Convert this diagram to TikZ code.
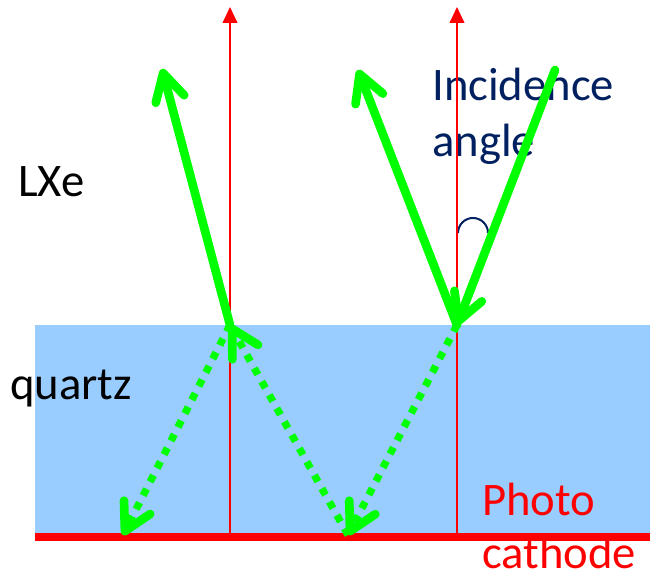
\documentclass[tikz,border=0pt]{standalone}
\usepackage{fontspec}
\setmainfont{Carlito}
\usetikzlibrary{arrows.meta}
\definecolor{quartzblue}{HTML}{99CCFF}
\definecolor{photongreen}{HTML}{00FF00}
\definecolor{navytext}{HTML}{002060}

\begin{document}
\begin{tikzpicture}[x=0.75pt,y=-0.75pt,
    photon/.style={draw=photongreen,line width=6.5pt,line cap=round,
        -{Straight Barb[length=20pt,width=22pt,line width=6.5pt,round]}},
    inside/.style={photon,line width=5.5pt,line cap=butt,dash pattern=on 5.5pt off 6pt},
    normal/.style={draw=red,line width=1.5pt,-{Triangle[length=12pt,width=11pt]}},
    txt/.style={font=\fontsize{35}{42}\selectfont,inner sep=0pt,anchor=base west}]

\useasboundingbox (0,0) rectangle (650,577);

% layers
\fill[quartzblue] (35,325) rectangle (650,537);
\draw[red,line width=6pt] (35,537) -- (650,537);

% points
\coordinate (hitL) at (230,325);
\coordinate (hitR) at (457,325);
\coordinate (baseL) at (230,537);
\coordinate (baseR) at (457,537);
\coordinate (topL) at (230,7);
\coordinate (topR) at (457,7);
\coordinate (outL) at (162,69);
\coordinate (outR) at (358,70);
\coordinate (inR) at (555,70);
\coordinate (bounceL) at (123,535);
\coordinate (bounceM) at (348,535);

% labels
\node[txt] (lxe) at (18,197) {LXe};
\node[txt] (quartz) at (10,400) {quartz};
\node[txt,text=navytext] (incid) at (432,101) {Incidence};
\node[txt,text=navytext] (angl) at (432,157) {angle};
\node[txt,text=red] (photo) at (482,515) {Photo};
\node[txt,text=red] (cathode) at (482,568) {cathode};
\draw[navytext,line width=1.5pt] (458,233) arc (180:360:15);

% normals
\draw[normal] (baseL) -- (topL);
\draw[normal] (baseR) -- (topR);

% light paths
\draw[photon] (hitL) -- (outL);
\draw[photon] (inR) -- (hitR);
\draw[photon] (hitR) -- (outR);
\draw[inside] (hitL) -- (bounceL);
\draw[inside] (bounceM) -- (hitL);
\draw[inside] (hitR) -- (bounceM);
\end{tikzpicture}
\end{document}
